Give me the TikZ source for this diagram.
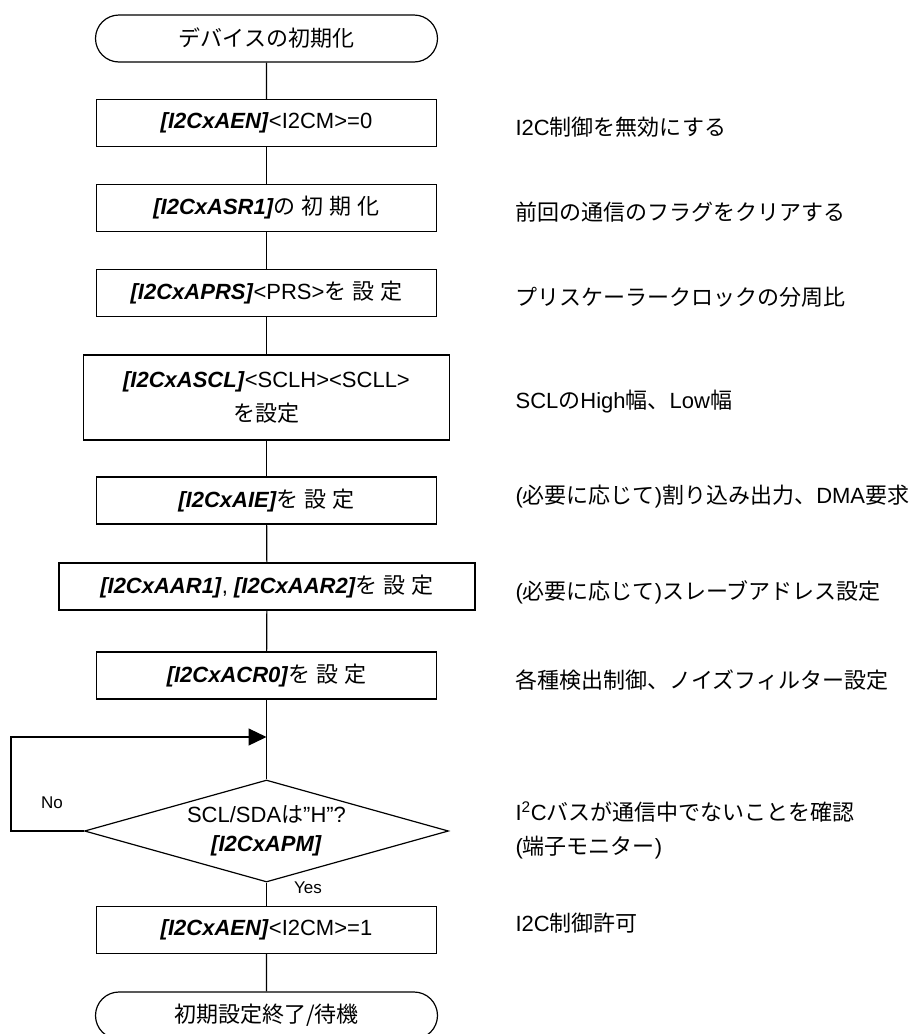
\documentclass[tikz,border=0pt]{standalone}
\usepackage{fontspec}
\setmainfont{Liberation Sans}
\newfontfamily\jp{Noto Sans CJK JP}
\newfontfamily\jb[LetterSpace=27]{Noto Sans CJK JP}
\usetikzlibrary{shapes.geometric,shapes.misc,arrows.meta}
\newcommand{\reg}[1]{\textbf{\textit{#1}}}

\begin{document}
\begin{tikzpicture}[x=1pt,y=-1pt,line width=1.2pt,
    font=\fontsize{22}{30}\selectfont,
    proc/.style={draw,rectangle,minimum width=340pt,minimum height=47pt,inner sep=0pt,align=center},
    term/.style={draw,rounded rectangle,minimum width=342pt,minimum height=47pt,inner sep=0pt},
    cond/.style={draw,diamond,minimum width=364pt,minimum height=102pt,inner sep=0pt},
    note/.style={anchor=west,align=left,inner sep=0pt},
    small/.style={font=\fontsize{17}{20}\selectfont}]
   \useasboundingbox (0,0) rectangle (917,1034);
   % flow
   \node (0) at (266.5,38.5) [term] {{\jp デバイスの初期化}};
   \node (1) at (266.5,123) [proc] {\reg{[I2CxAEN]}<I2CM>=0};
   \node (2) at (266.5,208) [proc] {\reg{[I2CxASR1]}{\jb の初期化}};
   \node (3) at (266.5,293) [proc] {\reg{[I2CxAPRS]}<PRS>{\jb を設定}};
   \node (4) at (266.5,397.5) [proc,minimum width=366pt,minimum height=85pt,
      font=\fontsize{22}{34}\selectfont] {\reg{[I2CxASCL]}<SCLH><SCLL>\\{\jp を設定}};
   \node (5) at (266.5,500.5) [proc] {\reg{[I2CxAIE]}{\jb を設定}};
   \node (6) at (267,586.5) [proc,minimum width=416pt] {\reg{[I2CxAAR1]}, \reg{[I2CxAAR2]}{\jb を設定}};
   \node (7) at (266.5,675.5) [proc] {\reg{[I2CxACR0]}{\jb を設定}};
   \node (8) at (266.5,831) [cond,label={[align=center,
      font=\fontsize{22}{29}\selectfont]center:SCL/SDA{\jp は}”H”?\\\reg{[I2CxAPM]}}] {};
   \node (9) at (266.5,930) [proc] {\reg{[I2CxAEN]}<I2CM>=1};
   \node (10) at (266.5,1015.5) [term] {{\jp 初期設定終了/待機}};
   \coordinate (j) at (266.5,737);
   \draw (0) -- (1);
   \draw (1) -- (2);
   \draw (2) -- (3);
   \draw (3) -- (4);
   \draw (4) -- (5);
   \draw (5) -- (6);
   \draw (6) -- (7);
   \draw (7) -- (8);
   \draw (8) -- (9);
   \draw (9) -- (10);
   % loop back
   \draw[-{Triangle[length=18pt,width=17pt]}] (8.west) -- ++(-73,0) |- (j);
   \node (no) at (52,803) [small] {No};
   \node (yes) at (308,888) [small] {Yes};
   % notes
   \node (n1) at (515,127) [note] {I2C{\jp 制御を無効にする}};
   \node (n2) at (515,212) [note] {{\jp 前回の通信のフラグをクリアする}};
   \node (n3) at (515,297) [note] {{\jp プリスケーラークロックの分周比}};
   \node (n4) at (515,402) [note] {SCL{\jp の}High{\jp 幅、}Low{\jp 幅}};
   \node (n5) at (515,497) [note] {({\jp 必要に応じて}){\jp 割り込み出力、}DMA{\jp 要求}};
   \node (n6) at (515,592) [note] {({\jp 必要に応じて}){\jp スレーブアドレス設定}};
   \node (n7) at (515,680) [note] {{\jp 各種検出制御、ノイズフィルター設定}};
   \node (n8) at (515,830) [note,font=\fontsize{22}{34}\selectfont]
      {I\textsuperscript{2}C{\jp バスが通信中でないことを確認}\\({\jp 端子モニター})};
   \node (n9) at (515,923) [note] {I2C{\jp 制御許可}};
\end{tikzpicture}
\end{document}
